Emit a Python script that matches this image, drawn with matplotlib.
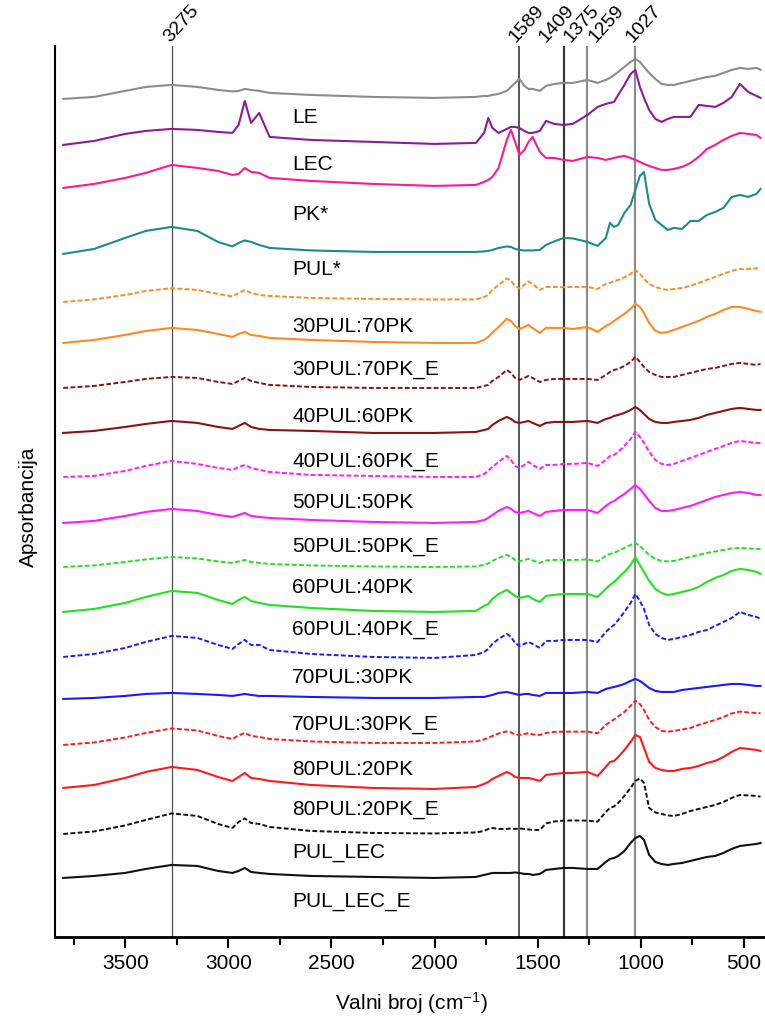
import matplotlib
matplotlib.use('Agg')
import matplotlib.pyplot as plt
from matplotlib.ticker import MultipleLocator

plt.rcParams['font.family'] = ['Liberation Sans', 'DejaVu Sans']
plt.rcParams['mathtext.fontset'] = 'custom'
plt.rcParams['mathtext.rm'] = 'Liberation Sans'
plt.rcParams['mathtext.default'] = 'regular'

# wavenumber grid (cm-1) shared by all spectra
wavenumber = [3800, 3650, 3500, 3400, 3275, 3150, 3050, 2980, 2950, 2920,
              2890, 2850, 2800, 2600, 2300, 2000, 1800, 1760, 1740, 1720,
              1690, 1650, 1630, 1610, 1589, 1565, 1545, 1525, 1490, 1460,
              1420, 1375, 1330, 1259, 1210, 1170, 1150, 1130, 1110, 1080,
              1050, 1027, 1005, 985, 960, 930, 900, 870, 840, 800,
              760, 720, 680, 640, 600, 560, 520, 480, 440, 420]

# absorbance above each trace's own baseline (arbitrary units)
le = [0, 2, 8, 12, 14, 12, 9, 7.5, 8, 10,
      9, 8, 6, 4, 2, 1, 2, 3, 3, 4,
      5, 8, 12, 16, 20, 13, 10, 10, 8, 13,
      15, 16, 16, 19, 16, 19, 21, 24, 27, 32,
      37, 40, 37, 32, 26, 20, 15, 14, 14, 16,
      18, 20, 22, 23, 26, 29, 31, 30, 31, 29]
lec = [0, 4, 11, 14, 16, 15, 13, 12, 20, 44,
       22, 32, 8, 5, 3, 1, 2, 12, 27, 17,
       12, 16, 18, 18, 17, 14, 12, 12, 14, 24,
       21, 20, 21, 30, 38, 41, 42, 43, 50, 60,
       71, 75, 58, 47, 35, 26, 23, 26, 28, 28,
       28, 40, 39, 38, 42, 48, 61, 53, 49, 47]
pk = [0, 4, 10, 15, 23, 20, 17, 13, 14, 20,
      16, 15, 10, 7, 4, 2, 3, 6, 8, 11,
      20, 48, 58, 46, 33, 38, 46, 51, 36, 30,
      30, 28, 27, 31, 30, 28, 29, 30, 31, 32,
      30, 28, 26, 24, 22, 20, 18, 18, 19, 21,
      25, 31, 39, 43, 48, 52, 55, 54, 53, 50]
pul = [0, 5, 16, 23, 27, 23, 12, 7.5, 11, 13.5,
       12, 9, 6, 3.5, 2, 2, 2, 2.5, 3, 4,
       6, 7.5, 7, 5, 4, 3.5, 3.5, 3.5, 4, 9,
       12.5, 16, 15.5, 12, 8, 16, 31, 27, 29, 41,
       49, 64, 78, 82, 50, 34, 29, 24, 26, 25,
       33, 33, 39, 42, 46, 57, 59, 57, 60, 65]
pul30_pk70 = [0, 2.5, 7, 11, 13.7, 12, 8, 5.5, 9, 12,
              9, 7, 6, 4, 3, 2.5, 2.5, 5, 7, 12,
              17, 23.5, 21, 16, 13.5, 17, 20.5, 18, 12, 15,
              15, 14.7, 15, 15, 13, 18, 19, 21, 22, 24.5,
              28, 32, 28, 23, 18, 15, 13, 12, 13, 14,
              16, 19, 22, 25, 28, 31, 33, 33, 33.5, 34]
pul30_pk70_e = [0, 3, 8, 12, 15, 13, 9, 6, 9, 11,
                8, 7, 5, 3, 1, 0, 0, 3, 6, 10,
                16, 24, 22, 17, 14, 16, 18, 15, 10, 15,
                15, 15, 14, 16, 11, 17, 19, 22, 25, 29,
                34, 39, 36, 30, 20, 12, 10, 11, 13, 16,
                19, 22, 26, 29, 33, 36, 36, 34, 32, 31]
pul40_pk60 = [0, 2, 6, 9, 11, 10, 6, 4, 7, 10,
              7, 5, 3, 1, 0, 0, 0, 2, 3, 7,
              11, 18, 15, 10, 8, 10, 12, 10, 6, 8,
              9, 9, 9, 9, 8, 13, 16, 18, 19, 22,
              26, 31, 26, 21, 16, 13, 11, 11, 11, 13,
              15, 17, 19, 20, 22, 24, 25, 24, 23, 24]
pul40_pk60_e = [0, 2, 6, 9, 12, 10, 6, 4, 7, 10,
                6, 4, 3, 2, 0, 0, 1, 3, 4, 8,
                12, 16, 14, 11, 10, 11, 12, 10, 7, 10,
                11, 11, 11, 12, 10, 14, 15, 17, 18, 20,
                23, 26, 23, 19, 14, 11, 10, 10, 11, 12,
                13, 15, 18, 20, 22, 24, 25, 24, 23, 23]
pul50_pk50 = [0, 1, 6, 11, 16, 13, 9, 7, 10, 12,
              9, 7, 5, 2, 1, 0, 0, 3, 6, 10,
              15, 21, 17, 11, 9, 12, 15, 12, 8, 12,
              12, 13, 13, 14, 11, 17, 21, 22, 25, 31,
              38, 45, 40, 34, 25, 17, 13, 12, 13, 16,
              19, 22, 25, 28, 31, 34, 36, 35, 34, 34]
pul50_pk50_e = [0, 2, 7, 11, 14, 12, 8, 6, 8, 10,
                7, 6, 5, 3, 1, 0, 1, 3, 5, 8,
                12, 16, 14, 11, 10, 11, 12, 10, 7, 11,
                12, 13, 13, 13, 10, 17, 20, 22, 25, 29,
                34, 38, 34, 29, 22, 15, 12, 12, 13, 15,
                17, 20, 23, 26, 28, 30, 31, 30, 28, 28]
pul60_pk40 = [0, 1.5, 5, 7.5, 10, 8.5, 5.5, 4, 5.5, 7,
              5, 4, 3, 1.5, 0.5, 0, 0.5, 2, 3.5, 6,
              9, 12, 10, 7, 5.5, 7, 8, 6.5, 4, 6.5,
              7, 7, 7, 7.5, 5.5, 11, 13, 14, 16, 19,
              22, 24, 21, 17, 12, 8, 6, 5.5, 6, 8,
              10, 12, 14, 15.5, 17, 18.5, 19, 18.5, 18, 18]
pul60_pk40_e = [0, 3, 9, 15, 21, 19, 12, 8, 12, 15,
                11, 9, 7, 4, 1, 0, 1, 6, 8, 13,
                18, 22, 19, 16, 14, 15, 16, 13, 10, 16,
                17, 18, 18, 18, 15, 23, 27, 30, 34, 40,
                47, 55, 47, 40, 31, 23, 19, 17, 18, 20,
                22, 25, 30, 34, 37, 41, 43, 42, 40, 38]
pul70_pk30 = [0, 3, 9, 15, 21, 19, 12, 8, 13, 17,
              12, 12, 7, 3, 0, -1, 2, 5, 8, 13,
              18, 23, 20, 14, 11, 13, 15, 13, 9, 16,
              16, 17, 17, 17, 15, 25, 29, 32, 37, 45,
              54, 63, 56, 48, 32, 23, 19, 17, 18, 20,
              22, 25, 27, 31, 35, 39, 45, 42, 40, 38]
pul70_pk30_e = [0, 1, 3, 5, 6, 5, 4, 3, 4, 5,
                4, 3, 3, 2, 1, 1, 2, 2, 3, 4,
                6, 7, 6, 5, 4, 5, 5, 4, 3, 6,
                6, 6, 6, 7, 6, 10, 11, 12, 13, 15,
                18, 20, 18, 15, 11, 8, 7, 7, 7, 9,
                10, 11, 12, 13, 14, 15, 15, 14, 13, 13]
pul80_pk20 = [0, 2.5, 7.5, 12, 16.5, 14.5, 9, 6, 9.5, 12,
              9, 8, 6, 3.5, 2, 2, 3.5, 5.5, 7, 9,
              11.5, 13.5, 12.5, 10.5, 10, 11, 11.7, 10.5, 10, 12,
              13, 13.3, 13.3, 13.3, 11.7, 20, 23, 25.5, 28.5, 33,
              39, 44.5, 41, 35, 25, 18, 14, 13.3, 14, 15.5,
              17, 20, 22.5, 25, 28, 31.5, 33.3, 32.5, 32, 31.7]
pul80_pk20_e = [0, 3, 10, 16, 21, 18, 11, 7, 11, 15,
                10, 9, 7, 3, 0, -1, 1, 4, 6, 9,
                12, 16, 14, 11, 10, 10, 10, 9, 7, 13,
                14, 15, 15, 16, 12, 21, 26, 27, 31, 38,
                46, 53, 51, 40, 26, 20, 18, 17, 17, 19,
                20, 22, 25, 27, 31, 36, 40, 39, 38, 37]
pul_lec = [0, 2.5, 8.5, 14, 20.5, 18, 10, 6, 12, 15.5,
           11, 10, 7, 3, 1, 0.5, 1.5, 3, 5, 6,
           5, 5, 5.5, 5, 5.5, 5, 4.5, 4, 4, 10.5,
           12.5, 13.3, 13.5, 13.3, 12.3, 22, 26, 27.5, 31, 38,
           46, 53, 55.5, 51, 26, 21.5, 20, 18.5, 18, 20,
           23, 25, 27, 29, 32, 36, 39, 38.5, 38, 37.3]
pul_lec_e = [0, 2, 5, 9, 13, 12, 7, 5, 7, 10,
             6, 5, 4, 2, 1, 0, 1, 3, 4, 5,
             5, 5, 5, 5.5, 5, 4, 4, 3, 4, 8,
             9, 10, 10, 9, 9, 16, 19, 20, 22, 27,
             35, 40, 42, 38, 23, 16, 14, 13, 14, 15,
             17, 19, 21, 22, 25, 29, 32, 33, 34, 35]

spectra = [le, lec, pk, pul, pul30_pk70, pul30_pk70_e, pul40_pk60, pul40_pk60_e,
           pul50_pk50, pul50_pk50_e, pul60_pk40, pul60_pk40_e, pul70_pk30,
           pul70_pk30_e, pul80_pk20, pul80_pk20_e, pul_lec, pul_lec_e]
names = ['LE', 'LEC', 'PK*', 'PUL*', '30PUL:70PK', '30PUL:70PK_E', '40PUL:60PK',
         '40PUL:60PK_E', '50PUL:50PK', '50PUL:50PK_E', '60PUL:40PK', '60PUL:40PK_E',
         '70PUL:30PK', '70PUL:30PK_E', '80PUL:20PK', '80PUL:20PK_E', 'PUL_LEC', 'PUL_LEC_E']
# vertical stacking offsets of the traces
offsets = [838, 792, 749, 683, 635, 594, 549, 504, 460, 414, 370, 325, 280, 238,
           192, 149, 103, 59]
label_y = [819, 772, 722, 667, 610, 567, 520, 475, 434, 390, 349, 307, 259, 212,
           167, 127, 84, 35]
colors = ['#8c8c8c', '#8e1a9a', '#ff1a8c', '#1a8c8a', '#ff8a1f', '#ff8a1f',
          '#8b1212', '#8b1212', '#ff1aff', '#ff1aff', '#22e022', '#22e022',
          '#1a1aff', '#1a1aff', '#ff1a1a', '#ff1a1a', '#111111', '#111111']
dashed = [False, False, False, False, True, False, True, False, True, False,
          True, False, True, False, True, False, True, False]

peak_lines = [3275, 1589, 1375, 1259, 1027]
line_colors = ['#505050', '#2a2a2a', '#3a3a3a', '#8a8a8a', '#8a8a8a']
line_widths = [0.9, 1.1, 1.6, 1.5, 1.5]
peak_labels = ['3275', '1589', '1409', '1375', '1259', '1027']
peak_label_x = [3280, 1609, 1464, 1343, 1221, 1042]

fig = plt.figure(figsize=(7.65, 10.16), dpi=100)
ax = fig.add_axes([0.0719, 0.0778, 0.9277, 0.877])

# reference lines at the marked bands
for wn, c, lw in zip(peak_lines, line_colors, line_widths):
    ax.axvline(wn, color=c, linewidth=lw, zorder=1)

for label, xpos in zip(peak_labels, peak_label_x):
    ax.text(xpos, 894, label, rotation=48, rotation_mode='anchor',
            ha='left', va='baseline', fontsize=14, clip_on=False)

# the spectra
for values, off, c, d in zip(spectra, offsets, colors, dashed):
    y = [v + off for v in values]
    if d:
        ax.plot(wavenumber, y, color=c, linewidth=1.4, linestyle=(0, (2.5, 1.2)), zorder=2)
    else:
        ax.plot(wavenumber, y, color=c, linewidth=1.5, zorder=2)

for name, ly in zip(names, label_y):
    ax.text(2690, ly, name, ha='left', va='center', fontsize=15)

ax.set_xlim(3840, 400)
ax.set_ylim(0, 891)
ax.set_xticks([3500, 3000, 2500, 2000, 1500, 1000, 500])
ax.xaxis.set_minor_locator(MultipleLocator(250))
ax.set_yticks([])
ax.tick_params(axis='x', which='major', length=8, width=1.5, labelsize=15, pad=4)
ax.tick_params(axis='x', which='minor', length=5.5, width=1.5)
for side in ['top', 'right']:
    ax.spines[side].set_visible(False)
ax.spines['left'].set_linewidth(1.5)
ax.spines['bottom'].set_linewidth(2)

fig.text(411 / 765, 1 - 1003 / 1016, 'Valni broj (cm$^{-1}$)', ha='center', va='center', fontsize=15)
fig.text(28 / 765, 1 - 507 / 1016, 'Apsorbancija', rotation=90, ha='center', va='center', fontsize=15)

fig.savefig('out.png', dpi=100)
